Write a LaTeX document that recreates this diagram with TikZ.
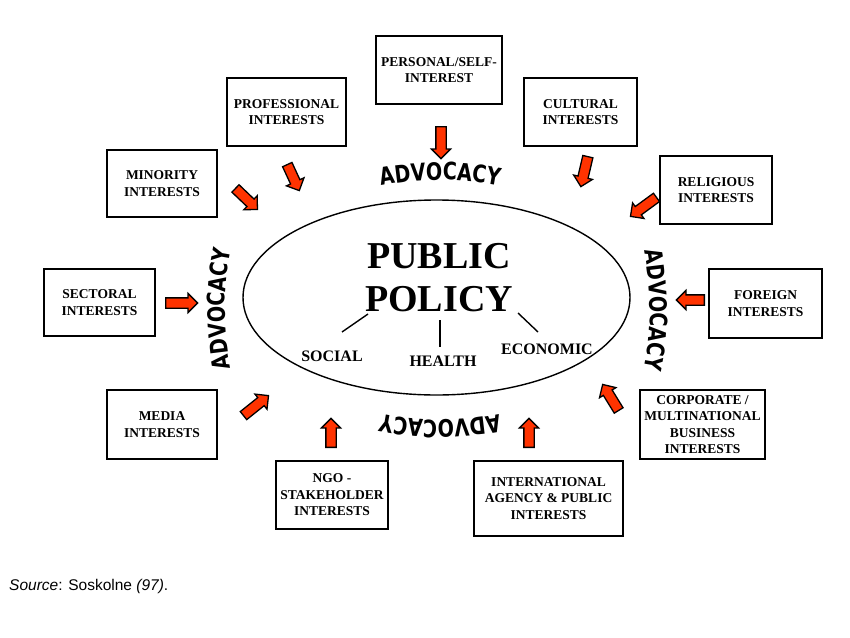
\documentclass[tikz,border=0pt]{standalone}
\usepackage{fontspec}
\setmainfont{Liberation Serif}
\setsansfont{Liberation Sans}
\newfontfamily\advfam{DejaVu Sans}[FakeStretch=0.8]
\usetikzlibrary{shapes.arrows,shapes.geometric,decorations.text,calc}
\definecolor{arrred}{RGB}{255,51,0}
\tikzset{
  box/.style={draw, line width=1.3pt, align=center, inner sep=0pt,
    font=\bfseries\fontsize{13.5}{16.5}\selectfont},
  lbl/.style={font=\bfseries\fontsize{16}{18}\selectfont, inner sep=0pt},
  redarrow/.style={single arrow, draw=black, fill=arrred, line width=1.3pt,
    inner xsep=0pt, inner ysep=4.5pt, minimum width=0pt, single arrow head extend=4.5pt,
    single arrow tip angle=90},
  advtext/.style={decorate, decoration={text along path, text align=center,
    text={|\advfam\bfseries\fontsize{24}{24}\selectfont|ADVOCACY}}},
  stem/.style={line width=1.4pt}
}
\newcommand\redarr[3]{%
  \path let \p1=(#2), \p2=(#3), \n1={atan2(\y2-\y1,\x2-\x1)},
    \n2={veclen(\x2-\x1,\y2-\y1)} in
    node[redarrow, rotate=\n1, minimum height=\n2, anchor=tail] (#1) at (\p1) {};}
\begin{document}
\begin{tikzpicture}[x=1pt, y=-1pt]
\useasboundingbox (0,0) rectangle (850,637);

% boxes
\node[box, minimum width=126pt, minimum height=68pt] (personal) at (439,70) {PERSONAL/SELF-\\INTEREST};
\node[box, minimum width=119pt, minimum height=68pt] (professional) at (286.5,112) {PROFESSIONAL\\INTERESTS};
\node[box, minimum width=113pt, minimum height=68pt] (cultural) at (580.5,112) {CULTURAL\\INTERESTS};
\node[box, minimum width=110pt, minimum height=67pt] (minority) at (162,183.5) {MINORITY\\INTERESTS};
\node[box, minimum width=112pt, minimum height=68pt] (religious) at (716,190) {RELIGIOUS\\INTERESTS};
\node[box, minimum width=111pt, minimum height=67pt] (sectoral) at (99.5,302.5) {SECTORAL\\INTERESTS};
\node[box, minimum width=113pt, minimum height=69pt] (foreign) at (765.5,303.5) {FOREIGN\\INTERESTS};
\node[box, minimum width=110pt, minimum height=69pt] (media) at (162,424.5) {MEDIA\\INTERESTS};
\node[box, minimum width=125pt, minimum height=69pt] (corporate) at (702.5,424.5) {CORPORATE /\\MULTINATIONAL\\BUSINESS\\INTERESTS};
\node[box, minimum width=112pt, minimum height=68pt] (ngo) at (332,495) {NGO -\\STAKEHOLDER\\INTERESTS};
\node[box, minimum width=149pt, minimum height=75pt] (intl) at (548.5,498.5) {INTERNATIONAL\\AGENCY \& PUBLIC\\INTERESTS};

% central ellipse
\node[ellipse, draw, line width=1.4pt, minimum width=387pt, minimum height=195pt, inner sep=0pt] (policyell) at (436.5,297.5) {};
\node[font=\bfseries\fontsize{38}{43}\selectfont, align=center, inner sep=0pt] (pubpol) at (439,278) {PUBLIC\\POLICY};
\node[lbl] (social) at (332,356) {SOCIAL};
\node[lbl] (health) at (443,361) {HEALTH};
\node[lbl] (economic) at (547,349) {ECONOMIC};
\coordinate (soc1) at (368,314); \coordinate (soc2) at (342,332);
\coordinate (hea1) at (440,320); \coordinate (hea2) at (440,347);
\coordinate (eco1) at (518,313); \coordinate (eco2) at (538,332);
\draw[stem] (soc1) -- (soc2);
\draw[stem] (hea1) -- (hea2);
\draw[stem] (eco1) -- (eco2);

% ADVOCACY words
\path[advtext] (440,480) ++(250:300) arc[start angle=250, end angle=290, radius=300];
\path[advtext] (440,120) ++(70:300) arc[start angle=70, end angle=110, radius=300];
\path[advtext] (525,309) ++(160:300) arc[start angle=160, end angle=200, radius=300];
\path[advtext] (350,310) ++(-20:300) arc[start angle=-20, end angle=20, radius=300];

% red arrows
\coordinate (t1) at (441,126); \coordinate (h1) at (441,158);
\coordinate (t2) at (287,164); \coordinate (h2) at (299,190);
\coordinate (t3) at (235,188); \coordinate (h3) at (257,209);
\coordinate (t4) at (588,156); \coordinate (h4) at (581,186);
\coordinate (t5) at (657,197); \coordinate (h5) at (631,216);
\coordinate (t6) at (165,303); \coordinate (h6) at (197,303);
\coordinate (t7) at (705,300); \coordinate (h7) at (677,300);
\coordinate (t8) at (243,416); \coordinate (h8) at (268,396);
\coordinate (t9) at (331,448); \coordinate (h9) at (331,419);
\coordinate (t10) at (529,448); \coordinate (h10) at (529,419);
\coordinate (t11) at (619,411); \coordinate (h11) at (603,385);
\redarr{a1}{t1}{h1}
\redarr{a2}{t2}{h2}
\redarr{a3}{t3}{h3}
\redarr{a4}{t4}{h4}
\redarr{a5}{t5}{h5}
\redarr{a6}{t6}{h6}
\redarr{a7}{t7}{h7}
\redarr{a8}{t8}{h8}
\redarr{a9}{t9}{h9}
\redarr{a10}{t10}{h10}
\redarr{a11}{t11}{h11}

% source
\node[anchor=west, inner sep=0pt, font=\sffamily\fontsize{15.5}{18}\selectfont] (src) at (9,586) {\textit{Source}: Soskolne \textit{(97)}.};
\end{tikzpicture}
\end{document}
